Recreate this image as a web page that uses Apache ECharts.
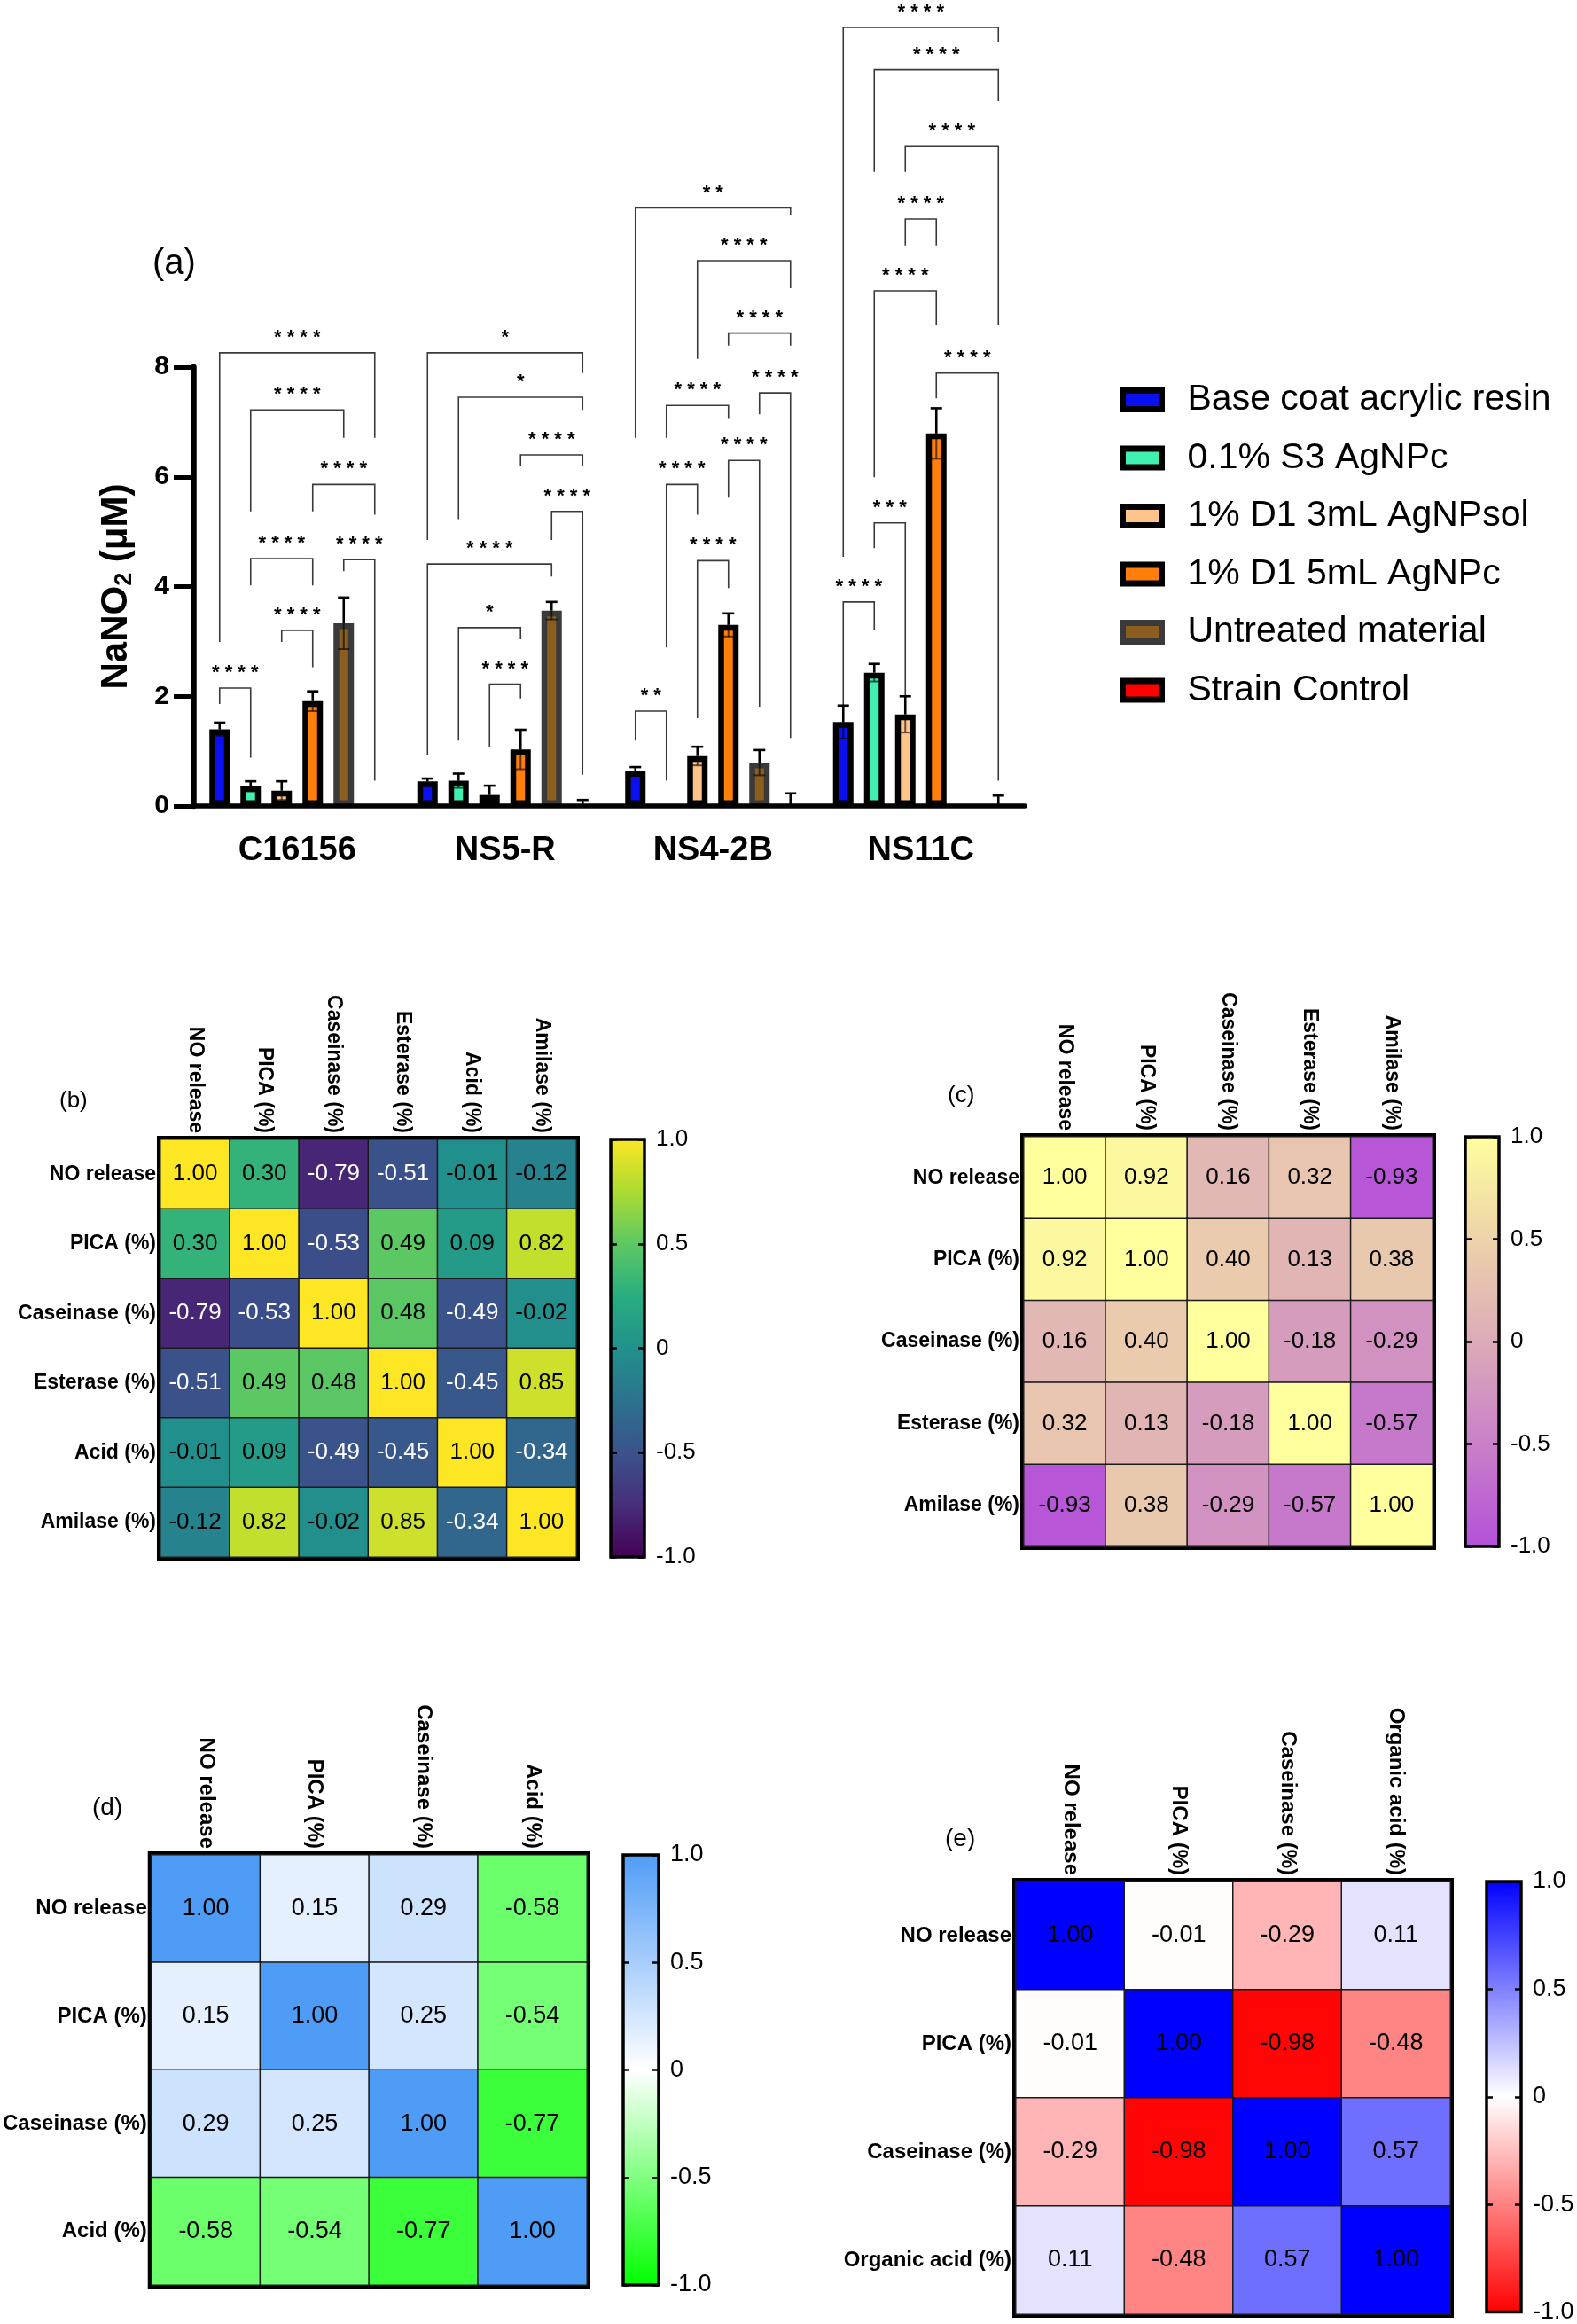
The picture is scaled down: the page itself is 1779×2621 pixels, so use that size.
<!DOCTYPE html>
<html>
<head>
<meta charset="utf-8">
<script src="https://cdn.jsdelivr.net/npm/echarts@6/dist/echarts.min.js"></script>
<style>
  html, body { margin: 0; padding: 0; background: #fff; }
  #chart { width: 1779px; height: 2621px; }
</style>
</head>
<body>
<div id="chart"></div>
<script>
const FONT = '"Liberation Sans", Arial, Helvetica, sans-serif';

// ---- (a) NaNO2 bars ----
const categories = ['C16156', 'NS5-R', 'NS4-2B', 'NS11C'];
const groupNames = [
  'Base coat acrylic resin',
  '0.1% S3 AgNPc',
  '1% D1 3mL AgNPsol',
  '1% D1 5mL AgNPc',
  'Untreated material',
  'Strain Control',
];
const baseCoat = [1.40, 0.45, 0.64, 1.53];
const baseCoatSd = [0.12, 0.05, 0.07, 0.30];
const s3AgNPc = [0.36, 0.46, null, 2.43];
const s3AgNPcSd = [0.09, 0.13, 0, 0.16];
const d1Sol3mL = [0.28, 0.20, 0.91, 1.67];
const d1Sol3mLSd = [0.17, 0.17, 0.17, 0.33];
const d1Pc5mL = [1.91, 1.03, 3.30, 6.79];
const d1Pc5mLSd = [0.18, 0.36, 0.21, 0.46];
const untreated = [3.33, 3.56, 0.79, null];
const untreatedSd = [0.47, 0.16, 0.23, 0];
const strainControl = [0, 0, 0, 0];
const strainControlSd = [0, 0.11, 0.23, 0.19];
const yTicks = [0, 2, 4, 6, 8];

// significance brackets: [category, fromBar, toBar, top, leftLegEnd, rightLegEnd, label]
const brackets = [
  [0, 0, 5, 8.26, 2.99, 6.71, '****'],
  [0, 1, 4, 7.22, 5.37, 6.71, '****'],
  [0, 3, 5, 5.86, 5.37, 5.31, '****'],
  [0, 1, 3, 4.51, 4.02, 4.02, '****'],
  [0, 4, 5, 4.49, 4.28, 0.46, '****'],
  [0, 2, 3, 3.20, 2.99, 2.53, '****'],
  [0, 0, 1, 2.15, 1.86, 0.88, '****'],
  [1, 0, 5, 8.26, 4.85, 7.89, '*'],
  [1, 1, 5, 7.45, 5.23, 7.22, '*'],
  [1, 3, 5, 6.40, 6.19, 6.19, '****'],
  [1, 4, 5, 5.37, 4.85, 0.57, '****'],
  [1, 0, 4, 4.41, 0.93, 4.18, '****'],
  [1, 1, 3, 3.25, 1.19, 3.04, '*'],
  [1, 2, 3, 2.22, 1.08, 1.96, '****'],
  [2, 0, 5, 10.90, 6.71, 10.78, '**'],
  [2, 2, 5, 9.94, 8.15, 9.44, '****'],
  [2, 3, 5, 8.62, 8.39, 8.39, '****'],
  [2, 4, 5, 7.53, 7.14, 1.24, '****'],
  [2, 1, 3, 7.30, 6.71, 7.07, '****'],
  [2, 3, 4, 6.30, 5.62, 1.81, '****'],
  [2, 1, 2, 5.86, 2.89, 5.31, '****'],
  [2, 2, 3, 4.47, 1.60, 3.97, '****'],
  [2, 0, 1, 1.73, 1.19, 0.46, '**'],
  [3, 0, 5, 14.19, 4.54, 13.93, '****'],
  [3, 1, 5, 13.42, 11.56, 12.85, '****'],
  [3, 2, 5, 12.02, 11.56, 8.77, '****'],
  [3, 2, 3, 10.70, 10.22, 10.22, '****'],
  [3, 1, 3, 9.39, 5.99, 8.77, '****'],
  [3, 3, 5, 7.89, 7.43, 0.46, '****'],
  [3, 1, 2, 5.16, 4.70, 2.01, '***'],
  [3, 0, 1, 3.72, 1.75, 3.20, '****'],
];

// ---- correlation heatmaps ----
const labelsB = ['NO release', 'PICA (%)', 'Caseinase (%)', 'Esterase (%)', 'Acid (%)', 'Amilase (%)'];
const corrB = [
  [1.00, 0.30, -0.79, -0.51, -0.01, -0.12],
  [0.30, 1.00, -0.53, 0.49, 0.09, 0.82],
  [-0.79, -0.53, 1.00, 0.48, -0.49, -0.02],
  [-0.51, 0.49, 0.48, 1.00, -0.45, 0.85],
  [-0.01, 0.09, -0.49, -0.45, 1.00, -0.34],
  [-0.12, 0.82, -0.02, 0.85, -0.34, 1.00],
];
const labelsC = ['NO release', 'PICA (%)', 'Caseinase (%)', 'Esterase (%)', 'Amilase (%)'];
const corrC = [
  [1.00, 0.92, 0.16, 0.32, -0.93],
  [0.92, 1.00, 0.40, 0.13, 0.38],
  [0.16, 0.40, 1.00, -0.18, -0.29],
  [0.32, 0.13, -0.18, 1.00, -0.57],
  [-0.93, 0.38, -0.29, -0.57, 1.00],
];
const labelsD = ['NO release', 'PICA (%)', 'Caseinase (%)', 'Acid (%)'];
const corrD = [
  [1.00, 0.15, 0.29, -0.58],
  [0.15, 1.00, 0.25, -0.54],
  [0.29, 0.25, 1.00, -0.77],
  [-0.58, -0.54, -0.77, 1.00],
];
const labelsE = ['NO release', 'PICA (%)', 'Caseinase (%)', 'Organic acid (%)'];
const corrE = [
  [1.00, -0.01, -0.29, 0.11],
  [-0.01, 1.00, -0.98, -0.48],
  [-0.29, -0.98, 1.00, 0.57],
  [0.11, -0.48, 0.57, 1.00],
];
const scaleTicks = [-1, -0.5, 0, 0.5, 1];

// colour ramps, low -> high, evenly spaced over -1..1
const viridis = ['#440154', '#472d7b', '#3b528b', '#2c728e', '#21918c', '#28ae80', '#5ec962', '#addc30', '#fde725'];
const plasmaSoft = ['#b450da', '#c980c9', '#dcabb8', '#edd3aa', '#ffff9e'];
const greenBlue = ['#00ff00', '#ffffff', '#4f9cf7'];
const redBlue = ['#ff0000', '#ffffff', '#0000ff'];

const barColors = ['#0a10f0', '#40f0b0', '#ffc48a', '#ff7f0a', '#8b5e20', '#ff0000'];
const barBorders = ['#000', '#000', '#000', '#000', '#3a3a3a', '#000'];

const barMeans = [baseCoat, s3AgNPc, d1Sol3mL, d1Pc5mL, untreated, strainControl];
const barSds = [baseCoatSd, s3AgNPcSd, d1Sol3mLSd, d1Pc5mLSd, untreatedSd, strainControlSd];
const BAR_W = 23;
const PITCH = 35;
const nBars = barMeans.length;

const chart = echarts.init(document.getElementById('chart'), null, { renderer: 'canvas' });

const grids = [];
const xAxes = [];
const yAxes = [];
const series = [];
const visualMaps = [];
const graphics = [];

// bar chart grid
grids.push({ left: 218, top: 414, width: 938, height: 495 });
xAxes.push({
  type: 'category', gridIndex: 0, data: categories, z: 3,
  axisLine: { lineStyle: { color: '#000', width: 5.5 } },
  axisTick: { alignWithLabel: true, length: 22, lineStyle: { color: '#000', width: 6 } },
  axisLabel: { color: '#000', fontFamily: FONT, fontWeight: 'bold', fontSize: 38, margin: 32 },
});
yAxes.push({
  type: 'value', gridIndex: 0, min: yTicks[0], max: yTicks[yTicks.length - 1], interval: yTicks[1] - yTicks[0], z: 3,
  name: '{n|NaNO}{s|2}{n| (μM)}', nameLocation: 'middle', nameGap: 62,
  nameTextStyle: {
    rich: {
      n: { fontFamily: FONT, fontWeight: 'bold', fontSize: 42, color: '#000', lineHeight: 50 },
      s: { fontFamily: FONT, fontWeight: 'bold', fontSize: 27, color: '#000', lineHeight: 50, padding: [20, 0, 0, 0] },
    },
  },
  axisLine: { show: true, lineStyle: { color: '#000', width: 6.5 } },
  axisTick: { show: true, length: 22, lineStyle: { color: '#000', width: 5 } },
  axisLabel: { color: '#000', fontFamily: FONT, fontWeight: 'bold', fontSize: 30, margin: 27 },
  splitLine: { show: false },
});

barMeans.forEach((vals, s) => {
  series.push({
    type: 'bar', name: groupNames[s], xAxisIndex: 0, yAxisIndex: 0,
    // a zero mean has no visible bar
    data: vals.map(v => (v === 0 ? null : v)),
    barWidth: BAR_W, barGap: ((PITCH - BAR_W) / BAR_W * 100) + '%',
    itemStyle: { color: barColors[s], borderColor: barBorders[s], borderWidth: 6.5 },
    emphasis: { disabled: true }, silent: true,
  });
});

const errorData = [];
barMeans.forEach((vals, s) => {
  vals.forEach((m, c) => {
    const sd = barSds[s][c];
    if (m !== null && sd > 0) errorData.push([c, m, sd, s]);
  });
});
series.push({
  type: 'custom', xAxisIndex: 0, yAxisIndex: 0, z: 6, clip: false, silent: true,
  data: errorData,
  renderItem: (params, api) => {
    const c = api.value(0), m = api.value(1), sd = api.value(2), s = api.value(3);
    const mid = api.coord([c, m]);
    const x = mid[0] + (s - (nBars - 1) / 2) * PITCH;
    const top = api.coord([c, m + sd])[1];
    const bot = api.coord([c, Math.max(0, m - sd)])[1];
    const cap = 6.5;
    const dark = { stroke: '#000', lineWidth: 2.6 };
    const soft = { stroke: 'rgba(0,0,0,0.6)', lineWidth: 2 };
    return {
      type: 'group',
      children: [
        { type: 'line', shape: { x1: x, y1: mid[1], x2: x, y2: top }, style: dark },
        { type: 'line', shape: { x1: x - cap, y1: top, x2: x + cap, y2: top }, style: dark },
        { type: 'line', shape: { x1: x, y1: mid[1], x2: x, y2: bot }, style: soft },
        { type: 'line', shape: { x1: x - cap, y1: bot, x2: x + cap, y2: bot }, style: soft },
      ],
    };
  },
});

series.push({
  type: 'custom', xAxisIndex: 0, yAxisIndex: 0, z: 4, clip: false, silent: true,
  data: brackets.map(b => [b[0], b[3], b[1], b[2], b[4], b[5]]),
  renderItem: (params, api) => {
    const c = api.value(0), top = api.value(1), i = api.value(2), j = api.value(3);
    const centre = api.coord([c, top]);
    const xl = centre[0] + (i - (nBars - 1) / 2) * PITCH;
    const xr = centre[0] + (j - (nBars - 1) / 2) * PITCH;
    const yl = api.coord([c, api.value(4)])[1];
    const yr = api.coord([c, api.value(5)])[1];
    const label = brackets[params.dataIndex][6].split('').join(' ');
    return {
      type: 'group',
      children: [
        { type: 'polyline', shape: { points: [[xl, yl], [xl, centre[1]], [xr, centre[1]], [xr, yr]] },
          style: { stroke: '#3a3a3a', lineWidth: 1.6, fill: null } },
        { type: 'text', x: (xl + xr) / 2, y: centre[1] - 17,
          style: { text: label, align: 'center', verticalAlign: 'middle', fill: '#000',
                   font: 'bold 22px ' + FONT } },
      ],
    };
  },
});

graphics.push({ type: 'text', left: 172, top: 278,
  style: { text: '(a)', font: '40px ' + FONT, fill: '#000' } });

// heatmap + colour bar builder
function addHeatmap(tag, labels, matrix, colors, box, bar, fs, whiteBelow) {
  const gi = grids.length;
  grids.push({ left: box[0], top: box[1], width: box[2], height: box[3], show: true,
    borderColor: '#000', borderWidth: 8, backgroundColor: 'transparent' });
  xAxes.push({
    type: 'category', gridIndex: gi, data: labels, position: 'top',
    axisLine: { show: false }, axisTick: { show: false }, splitLine: { show: false },
    axisLabel: { rotate: 90, color: '#000', fontFamily: FONT, fontWeight: 'bold', fontSize: fs.axis, margin: 7, interval: 0 },
  });
  yAxes.push({
    type: 'category', gridIndex: gi, data: labels, inverse: true,
    axisLine: { show: false }, axisTick: { show: false }, splitLine: { show: false },
    axisLabel: { color: '#000', fontFamily: FONT, fontWeight: 'bold', fontSize: fs.axis, margin: 5, interval: 0 },
  });
  const xi = xAxes.length - 1, yi = yAxes.length - 1;
  const data = [];
  matrix.forEach((row, r) => row.forEach((v, c) => {
    data.push({ value: [c, r, v], label: { color: v < whiteBelow ? '#fff' : '#000' } });
  }));
  const si = series.length;
  series.push({
    type: 'heatmap', xAxisIndex: xi, yAxisIndex: yi, data, silent: true,
    itemStyle: { borderColor: '#1a1a1a', borderWidth: 1.5 },
    label: { show: true, fontFamily: FONT, fontSize: fs.value, formatter: p => p.value[2].toFixed(2) },
    emphasis: { disabled: true },
  });
  visualMaps.push({ type: 'continuous', show: false, min: -1, max: 1, seriesIndex: si, dimension: 2,
    inRange: { color: colors } });

  // colour bar
  const cg = grids.length;
  grids.push({ left: bar[0], top: box[1], width: bar[1], height: box[3] });
  xAxes.push({ type: 'value', gridIndex: cg, min: 0, max: 1, show: false });
  const cbx = xAxes.length - 1;
  const tickStyle = { show: true, inside: true, length: 7, lineStyle: { color: '#000', width: 2.5 } };
  yAxes.push({ type: 'value', gridIndex: cg, min: scaleTicks[0], max: scaleTicks[scaleTicks.length - 1],
    interval: scaleTicks[1] - scaleTicks[0], position: 'left', z: 8,
    axisLine: { show: false }, axisLabel: { show: false }, splitLine: { show: false }, axisTick: tickStyle });
  const cbyl = yAxes.length - 1;
  yAxes.push({ type: 'value', gridIndex: cg, min: scaleTicks[0], max: scaleTicks[scaleTicks.length - 1],
    interval: scaleTicks[1] - scaleTicks[0], position: 'right', z: 8,
    axisLine: { show: false }, splitLine: { show: false }, axisTick: tickStyle,
    axisLabel: { color: '#000', fontFamily: FONT, fontSize: fs.bar, margin: 13,
      formatter: v => (v === 0 ? '0' : v.toFixed(1)) } });
  const stops = colors.map((col, k) => ({ offset: 1 - k / (colors.length - 1), color: col }));
  series.push({
    type: 'custom', xAxisIndex: cbx, yAxisIndex: cbyl, silent: true, z: 2,
    data: [[0, scaleTicks[0], scaleTicks[scaleTicks.length - 1]]],
    renderItem: (params, api) => {
      const p0 = api.coord([0, api.value(2)]);
      const p1 = api.coord([1, api.value(1)]);
      return { type: 'rect', shape: { x: p0[0], y: p0[1], width: p1[0] - p0[0], height: p1[1] - p0[1] },
        style: { fill: new echarts.graphic.LinearGradient(0, 0, 0, 1, stops.slice().reverse()),
                 stroke: '#000', lineWidth: 3.5 } };
    },
  });
  graphics.push({ type: 'text', left: tag[1], top: tag[2],
    style: { text: tag[0], font: fs.tag + 'px ' + FONT, fill: '#000' } });
}

addHeatmap(['(b)', 67, 1229], labelsB, corrB, viridis, [181, 1285, 469, 471], [689, 38],
  { axis: 23, value: 26, bar: 26, tag: 26 }, -0.3);
addHeatmap(['(c)', 1069, 1223], labelsC, corrC, plasmaSoft, [1155, 1282, 461, 462], [1653, 38],
  { axis: 23, value: 26, bar: 26, tag: 26 }, -2);
addHeatmap(['(d)', 104, 2025], labelsD, corrD, greenBlue, [170, 2092, 492, 485], [703, 40],
  { axis: 24, value: 27, bar: 27, tag: 28 }, -2);
addHeatmap(['(e)', 1066, 2060], labelsE, corrE, redBlue, [1146, 2122, 490, 488], [1677, 39],
  { axis: 24, value: 27, bar: 27, tag: 28 }, -2);

chart.setOption({
  backgroundColor: '#fff',
  animation: false,
  textStyle: { fontFamily: FONT },
  grid: grids,
  xAxis: xAxes,
  yAxis: yAxes,
  visualMap: visualMaps,
  legend: {
    orient: 'vertical', left: 1258, top: 424, itemWidth: 44, itemHeight: 21, itemGap: 21.5,
    icon: 'rect', selectedMode: false, data: groupNames,
    itemStyle: { borderWidth: 7 },
    textStyle: { fontFamily: FONT, fontSize: 41, color: '#000', lineHeight: 44, padding: [0, 0, 0, 24] },
  },
  graphic: graphics,
  series,
});
</script>
</body>
</html>
